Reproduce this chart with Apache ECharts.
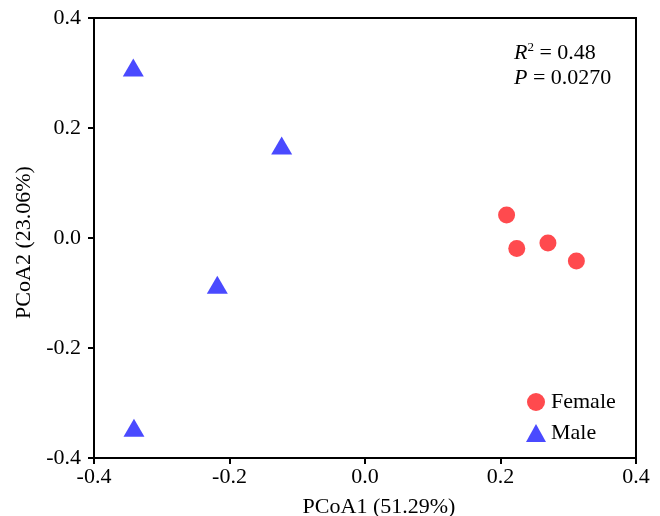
<!DOCTYPE html>
<html><head><meta charset="utf-8">
<script src="https://cdn.jsdelivr.net/npm/echarts@6/dist/echarts.min.js"></script>
<style>html,body{margin:0;padding:0;background:#fff}#c{width:660px;height:516px}</style>
</head><body><div id="c"></div>
<script>
const femaleX = [0.209, 0.224, 0.270, 0.312];
const femaleY = [0.042, -0.019, -0.009, -0.042];
const maleX = [-0.342, -0.123, -0.218, -0.341];
const maleY = [0.310, 0.168, -0.085, -0.345];
const xTicks = [-0.4, -0.2, 0.0, 0.2, 0.4];
const yTicks = [-0.4, -0.2, 0.0, 0.2, 0.4];
const xName = 'PCoA1 (51.29%)';
const yName = 'PCoA2 (23.06%)';
const statR2 = '0.48';
const statP = '0.0270';

const font = 'Liberation Serif, Times New Roman, serif';
const chart = echarts.init(document.getElementById('c'));
const axisCommon = {
  type: 'value', min: -0.4, max: 0.4, interval: 0.2,
  axisLine: {show: true, onZero: false, lineStyle: {color: '#000', width: 2}},
  axisTick: {show: true, length: 6, lineStyle: {color: '#000', width: 2}},
  splitLine: {show: false},
  axisLabel: {color: '#000', fontFamily: font, fontSize: 22, formatter: v => v.toFixed(1)},
  nameTextStyle: {color: '#000', fontFamily: font, fontSize: 22}
};
chart.setOption({
  animation: false,
  grid: {left: 94, right: 24, top: 18, bottom: 58, show: true, borderColor: '#000', borderWidth: 2,
         outerBoundsMode: 'none', containLabel: false},
  xAxis: Object.assign({}, axisCommon, {name: xName, nameLocation: 'middle', nameGap: 38,
    nameTextStyle: Object.assign({}, axisCommon.nameTextStyle, {padding: [0, 0, 0, 28]}),
    axisLabel: Object.assign({}, axisCommon.axisLabel, {margin: 8})}),
  yAxis: Object.assign({}, axisCommon, {name: yName, nameLocation: 'middle', nameGap: 56,
    nameTextStyle: Object.assign({}, axisCommon.nameTextStyle, {padding: [0, 9, 0, 0]}),
    axisLabel: Object.assign({}, axisCommon.axisLabel, {margin: 13})}),
  legend: {
    orient: 'vertical', left: 521, top: 386, itemWidth: 20, itemHeight: 18, itemGap: 9,
    textStyle: {color: '#000', fontFamily: font, fontSize: 22, lineHeight: 20},
    data: [{name: 'Female', icon: 'circle'}, {name: 'Male', icon: 'triangle'}]
  },
  graphic: [{
    type: 'text', left: 514, top: 41,
    style: {
      rich: {
        i: {fontFamily: font, fontSize: 22, fontStyle: 'italic', fill: '#000'},
        s: {fontFamily: font, fontSize: 13, fill: '#000', verticalAlign: 'top', padding: [0,0,4,0]},
        n: {fontFamily: font, fontSize: 22, fill: '#000'}
      },
      text: '{i|R}{s|2}{n| = ' + statR2 + '}\n{i|P}{n| = ' + statP + '}',
      lineHeight: 25, fill: '#000', fontFamily: font, fontSize: 22
    }
  }],
  series: [
    {name: 'Female', type: 'scatter', symbol: 'circle', symbolSize: 17,
     itemStyle: {color: '#FF4A4E', opacity: 1},
     data: femaleX.map((x, i) => [x, femaleY[i]])},
    {name: 'Male', type: 'scatter', symbol: 'triangle', symbolSize: [21, 18],
     itemStyle: {color: '#4A4AFF', opacity: 1},
     data: maleX.map((x, i) => [x, maleY[i]])}
  ]
});
</script></body></html>
